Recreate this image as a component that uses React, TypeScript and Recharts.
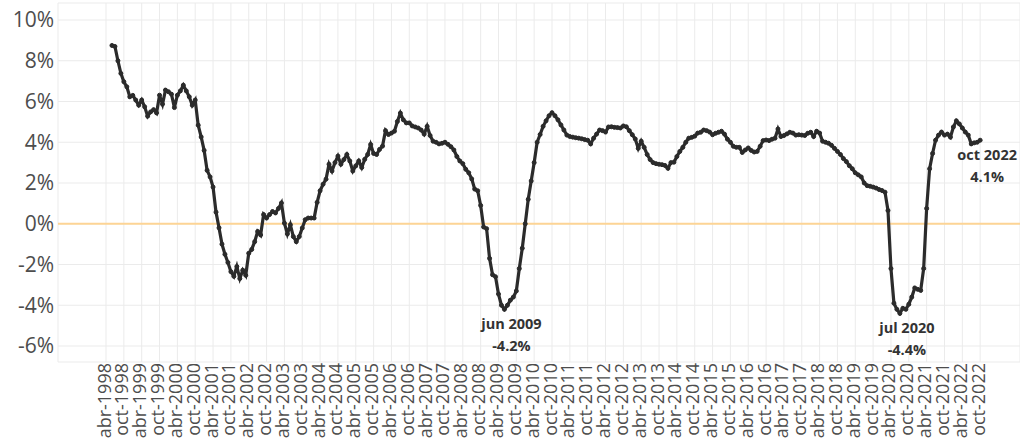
import React from "react";
import {
  LineChart,
  Line,
  XAxis,
  YAxis,
  CartesianGrid,
  ReferenceLine,
  ReferenceDot,
} from "recharts";

// Monthly values (%), starting jun-1998, ending oct-2022
const v1998 = [8.75, 8.7, 8.0, 7.38, 6.97, 6.72, 6.23];
const v1999 = [6.3, 6.07, 5.82, 6.07, 5.74, 5.28, 5.49, 5.6, 5.44, 6.31, 5.87, 6.56];
const v2000 = [6.48, 6.36, 5.7, 6.31, 6.52, 6.8, 6.52, 6.23, 5.82, 6.07, 4.84, 4.26];
const v2001 = [3.6, 2.62, 2.3, 1.8, 0.57, -0.2, -1.0, -1.5, -1.9, -2.35, -2.58, -2.1];
const v2002 = [-2.69, -2.28, -2.53, -1.45, -1.26, -0.88, -0.38, -0.55, 0.45, 0.28, 0.45, 0.6];
const v2003 = [0.53, 0.75, 1.02, 0.03, -0.5, -0.05, -0.63, -0.88, -0.63, -0.21, 0.2, 0.28];
const v2004 = [0.28, 0.28, 1.05, 1.62, 1.94, 2.19, 2.92, 2.59, 3.0, 3.32, 2.92, 3.15];
const v2005 = [3.4, 3.08, 2.59, 2.84, 3.08, 2.76, 3.16, 3.4, 3.89, 3.45, 3.4, 3.65];
const v2006 = [3.81, 4.57, 4.38, 4.45, 4.54, 5.02, 5.43, 5.1, 4.95, 4.95, 4.8, 4.75];
const v2007 = [4.7, 4.6, 4.4, 4.78, 4.33, 4.05, 4.0, 3.92, 3.95, 4.0, 3.9, 3.78];
const v2008 = [3.62, 3.3, 3.08, 2.95, 2.67, 2.5, 2.2, 1.7, 1.62, 0.9, -0.16, -0.24];
const v2009 = [-1.7, -2.5, -2.6, -3.45, -4.0, -4.2, -4.0, -3.75, -3.6, -3.3, -2.2, -1.2];
const v2010 = [0.0, 1.2, 2.1, 3.0, 4.0, 4.38, 4.78, 5.05, 5.3, 5.45, 5.3, 5.1];
const v2011 = [4.85, 4.6, 4.35, 4.28, 4.25, 4.22, 4.2, 4.17, 4.13, 4.1, 3.92, 4.2];
const v2012 = [4.4, 4.6, 4.57, 4.5, 4.75, 4.76, 4.73, 4.72, 4.7, 4.8, 4.76, 4.57];
const v2013 = [4.37, 4.16, 3.7, 4.05, 3.75, 3.4, 3.15, 3.0, 2.95, 2.92, 2.9, 2.86];
const v2014 = [2.72, 3.0, 3.02, 3.3, 3.55, 3.75, 4.0, 4.2, 4.24, 4.3, 4.45, 4.49];
const v2015 = [4.6, 4.57, 4.5, 4.37, 4.44, 4.49, 4.54, 4.4, 4.15, 4.0, 3.8, 3.75];
const v2016 = [3.75, 3.5, 3.62, 3.72, 3.6, 3.52, 3.55, 3.8, 4.08, 4.11, 4.08, 4.15];
const v2017 = [4.2, 4.65, 4.28, 4.33, 4.41, 4.49, 4.45, 4.35, 4.37, 4.35, 4.33, 4.44];
const v2018 = [4.49, 4.28, 4.54, 4.45, 4.05, 4.0, 3.95, 3.85, 3.7, 3.55, 3.4, 3.2];
const v2019 = [3.05, 2.85, 2.7, 2.5, 2.4, 2.3, 2.0, 1.87, 1.84, 1.8, 1.75, 1.68];
const v2020 = [1.63, 1.55, 0.65, -2.2, -3.9, -4.2, -4.4, -4.15, -4.2, -3.95, -3.6, -3.15];
const v2021 = [-3.22, -3.27, -2.2, 0.75, 2.7, 3.45, 4.1, 4.35, 4.5, 4.35, 4.4, 4.25];
const v2022 = [4.75, 5.05, 4.9, 4.7, 4.5, 4.35, 3.92, 3.97, 4.0, 4.1];

const monthNames = ["ene", "feb", "mar", "abr", "may", "jun", "jul", "ago", "sep", "oct", "nov", "dic"];
const tickYears = [
  1998, 1999, 2000, 2001, 2002, 2003, 2004, 2005, 2006, 2007, 2008, 2009, 2010,
  2011, 2012, 2013, 2014, 2015, 2016, 2017, 2018, 2019, 2020, 2021, 2022,
];
const yTicks = [-6, -4, -2, 0, 2, 4, 6, 8, 10];

// annotations
const annotLabels = ["jun 2009", "jul 2020", "oct 2022"];
const annotValues = ["-4.2%", "-4.4%", "4.1%"];
const annotMonths = [134, 267, 294]; // months since abr-1998
const annotY = [-4.2, -4.4, 4.1];

const allValues = [
  ...v1998, ...v1999, ...v2000, ...v2001, ...v2002, ...v2003, ...v2004, ...v2005,
  ...v2006, ...v2007, ...v2008, ...v2009, ...v2010, ...v2011, ...v2012, ...v2013,
  ...v2014, ...v2015, ...v2016, ...v2017, ...v2018, ...v2019, ...v2020, ...v2021, ...v2022,
];

// m = months since abr-1998; first value is jun-1998 (m = 2)
const data = allValues.map((v, i) => {
  const m = i + 2;
  const absMonth = 3 + m; // 0 = jan-1998
  const year = 1998 + Math.floor(absMonth / 12);
  return { m, v, label: `${monthNames[absMonth % 12]}-${year}` };
});

const xTicks: number[] = [];
const xTickLabels: Record<number, string> = {};
tickYears.forEach((y, i) => {
  const a = i * 12;
  const o = i * 12 + 6;
  xTicks.push(a, o);
  xTickLabels[a] = `abr-${y}`;
  xTickLabels[o] = `oct-${y}`;
});

const FONT = "'Open Sans', 'DejaVu Sans', sans-serif";

const XTick = (props: any) => {
  const { x, y, payload } = props;
  const yy = y + 1;
  return (
    <text
      x={x}
      y={yy}
      dy="0.25em"
      transform={`rotate(-90, ${x}, ${yy})`}
      textAnchor="end"
      fill="#4d4d4d"
      fontSize={18}
      fontFamily={FONT}
    >
      {xTickLabels[payload.value]}
    </text>
  );
};

const Annot = (props: any) => {
  const { viewBox, l1, l2 } = props;
  if (!viewBox) return null;
  const cx = viewBox.x + (viewBox.width || 0) / 2 + 7;
  const cy = viewBox.y + (viewBox.height || 0) / 2;
  return (
    <g>
      <text x={cx} y={cy + 20} textAnchor="middle" fontWeight="bold" fontSize={14.5} fill="#333333" fontFamily={FONT}>
        {l1}
      </text>
      <text x={cx} y={cy + 42} textAnchor="middle" fontWeight="bold" fontSize={14.5} fill="#333333" fontFamily={FONT}>
        {l2}
      </text>
    </g>
  );
};

export default function App() {
  return (
    <div style={{ position: "absolute", left: 0, top: 0, width: 1020, height: 439, background: "#ffffff" }}>
      <LineChart width={1020} height={439} data={data} margin={{ top: 3, right: 0, bottom: 0, left: 0 }}>
        <CartesianGrid stroke="#ebebeb" strokeWidth={1} />
        <XAxis
          dataKey="m"
          type="number"
          domain={[-16.15, 307.4]}
          allowDataOverflow
          ticks={xTicks}
          interval={0}
          height={77}
          axisLine={false}
          tickLine={false}
          tickSize={0}
          tickMargin={0}
          tick={<XTick />}
        />
        <YAxis
          type="number"
          domain={[-6.785, 10.834]}
          allowDataOverflow
          ticks={yTicks}
          interval={0}
          width={58}
          axisLine={false}
          tickLine={false}
          tickSize={0}
          tickMargin={4}
          tickFormatter={(v: number) => `${v}%`}
          tick={{ fill: "#4d4d4d", fontSize: 21, fontFamily: FONT }}
        />
        <ReferenceLine y={0} stroke="#fdd495" strokeWidth={1.8} />
        <Line
          type="linear"
          dataKey="v"
          stroke="#2b2b2b"
          strokeWidth={3.2}
          dot={{ r: 2, fill: "#2b2b2b", stroke: "#2b2b2b", strokeWidth: 1 }}
          activeDot={false}
          isAnimationActive={false}
        />
        {annotLabels.map((l, i) => (
          <ReferenceDot
            key={l}
            x={annotMonths[i]}
            y={annotY[i]}
            r={0}
            fill="none"
            stroke="none"
            label={<Annot l1={l} l2={annotValues[i]} />}
          />
        ))}
      </LineChart>
    </div>
  );
}
